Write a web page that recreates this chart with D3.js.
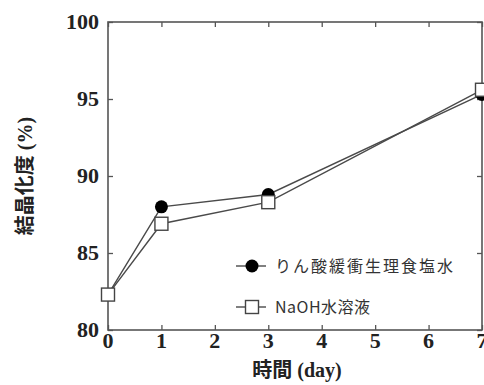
<!DOCTYPE html>
<html>
<head>
<meta charset="utf-8">
<script src="https://cdn.jsdelivr.net/npm/d3@7"></script>
<style>
  html, body { margin: 0; padding: 0; background: #fff; }
  svg { display: block; }
</style>
</head>
<body>
<svg id="chart" width="484" height="385"></svg>
<script>
// Crystallinity over immersion time
const days = [0, 1, 3, 7];
const pbsValues = [82.3, 88.0, 88.8, 95.3];   // りん酸緩衝生理食塩水
const naohValues = [82.3, 86.9, 88.3, 95.6];  // NaOH水溶液
const xTicks = [0, 1, 2, 3, 4, 5, 6, 7];
const yTicks = [80, 85, 90, 95, 100];
const seriesNames = ["りん酸緩衝生理食塩水", "NaOH水溶液"];
const xTitle = ["時間", " (day)"];
const yTitle = ["結晶化度", " (%)"];

const svg = d3.select("#chart");
const m = { left: 108, right: 482, top: 22, bottom: 330 };
const axisColor = "#555";
const lineColor = "#4a4a4a";
const serif = "'Liberation Serif', 'DejaVu Serif', serif";
const cjk = "'Noto Sans CJK JP', 'Noto Sans', sans-serif";

const x = d3.scaleLinear().domain([0, 7]).range([m.left, m.right]);
const y = d3.scaleLinear().domain([80, 100]).range([m.bottom, m.top]);

// frame with inward ticks on all four sides
const axes = svg.append("g");
function styleAxis(g) {
  g.select(".domain").remove();
  g.selectAll(".tick line").attr("stroke", axisColor).attr("stroke-width", 1.3);
  g.selectAll(".tick text").remove();
}
axes.append("g").attr("transform", `translate(0,${m.bottom})`)
  .call(d3.axisBottom(x).tickValues(xTicks).tickSizeInner(-5).tickSizeOuter(0)).call(styleAxis);
axes.append("g").attr("transform", `translate(0,${m.top})`)
  .call(d3.axisTop(x).tickValues(xTicks).tickSizeInner(-5).tickSizeOuter(0)).call(styleAxis);
axes.append("g").attr("transform", `translate(${m.left},0)`)
  .call(d3.axisLeft(y).tickValues(yTicks).tickSizeInner(-5).tickSizeOuter(0)).call(styleAxis);
axes.append("g").attr("transform", `translate(${m.right},0)`)
  .call(d3.axisRight(y).tickValues(yTicks).tickSizeInner(-5).tickSizeOuter(0)).call(styleAxis);

svg.append("rect")
  .attr("x", m.left).attr("y", m.top)
  .attr("width", m.right - m.left).attr("height", m.bottom - m.top)
  .attr("fill", "none").attr("stroke", axisColor).attr("stroke-width", 1.6);

// tick labels
svg.append("g").selectAll("text").data(xTicks).join("text")
  .attr("x", d => x(d)).attr("y", m.bottom + 18)
  .attr("text-anchor", "middle")
  .attr("font-family", serif).attr("font-weight", "bold").attr("font-size", 22)
  .attr("fill", "#222")
  .text(d => d);
svg.append("g").selectAll("text").data(yTicks).join("text")
  .attr("x", m.left - 9).attr("y", d => y(d) + 7)
  .attr("text-anchor", "end")
  .attr("font-family", serif).attr("font-weight", "bold").attr("font-size", 22)
  .attr("fill", "#222")
  .text(d => d);

// axis titles: CJK part in sans, unit part in serif
function title(sel, parts) {
  sel.append("tspan").attr("font-family", cjk).text(parts[0]);
  sel.append("tspan").attr("font-family", serif).text(parts[1]);
}
svg.append("text")
  .attr("x", 297).attr("y", 377)
  .attr("text-anchor", "middle")
  .attr("font-weight", "bold").attr("font-size", 20)
  .attr("fill", "#222")
  .call(title, xTitle);
svg.append("text")
  .attr("transform", "translate(32,176) rotate(-90)")
  .attr("text-anchor", "middle")
  .attr("font-weight", "bold").attr("font-size", 20)
  .attr("fill", "#222")
  .call(title, yTitle);

// series
const line = d3.line().x(d => x(d[0])).y(d => y(d[1]));
const pbs = days.map((d, i) => [d, pbsValues[i]]);
const naoh = days.map((d, i) => [d, naohValues[i]]);

svg.append("path").datum(pbs).attr("d", line)
  .attr("fill", "none").attr("stroke", lineColor).attr("stroke-width", 1.4);
svg.append("path").datum(naoh).attr("d", line)
  .attr("fill", "none").attr("stroke", lineColor).attr("stroke-width", 1.4);

svg.append("g").selectAll("circle").data(pbs).join("circle")
  .attr("cx", d => x(d[0])).attr("cy", d => y(d[1])).attr("r", 6.5)
  .attr("fill", "#000");

const sq = 13;
svg.append("g").selectAll("rect").data(naoh).join("rect")
  .attr("x", d => x(d[0]) - sq / 2).attr("y", d => y(d[1]) - sq / 2)
  .attr("width", sq).attr("height", sq)
  .attr("fill", "#fff").attr("stroke", "#444").attr("stroke-width", 1.4);

// legend
const legend = svg.append("g");
const ly = [266, 307];
legend.selectAll("line").data(ly).join("line")
  .attr("x1", 236).attr("x2", 266).attr("y1", d => d).attr("y2", d => d)
  .attr("stroke", lineColor).attr("stroke-width", 1.4);
legend.append("circle").attr("cx", 252).attr("cy", ly[0]).attr("r", 6.5).attr("fill", "#000");
legend.append("rect").attr("x", 252 - sq / 2).attr("y", ly[1] - sq / 2)
  .attr("width", sq).attr("height", sq)
  .attr("fill", "#fff").attr("stroke", "#444").attr("stroke-width", 1.4);
legend.selectAll("text").data(seriesNames).join("text")
  .attr("x", 275).attr("y", (d, i) => ly[i] + 6)
  .attr("font-family", cjk).attr("font-size", 16)
  .attr("letter-spacing", (d, i) => i === 0 ? 2 : 0.5)
  .attr("fill", "#333")
  .text(d => d);
</script>
</body>
</html>
